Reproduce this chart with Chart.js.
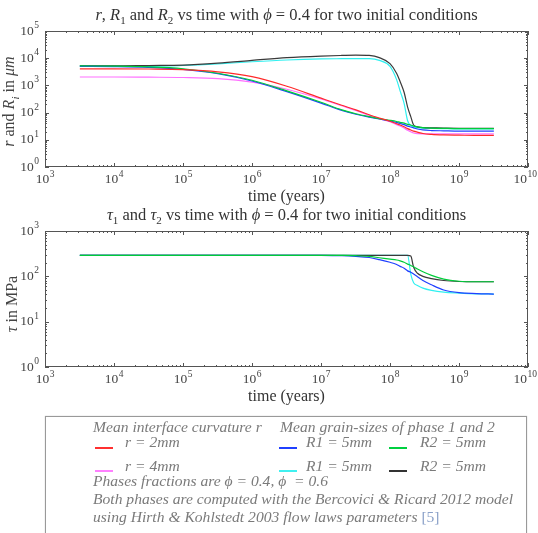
<!DOCTYPE html>
<html>
<head>
<meta charset="utf-8">
<script src="https://cdn.jsdelivr.net/npm/chart.js@4.4.1/dist/chart.umd.min.js"></script>
<style>
  html, body { margin: 0; padding: 0; background: #fff; }
  body { width: 538px; height: 533px; position: relative; overflow: hidden; font-family: "Liberation Serif", serif; color: #333; }
  canvas { position: absolute; left: 0; }
  #topChart { top: 0; }
  #bottomChart { top: 200px; }
  .t { position: absolute; white-space: nowrap; line-height: 16px; font-size: 15.6px; }
  .title { left: 45px; width: 483px; text-align: center; color: #333; font-size: 16.5px; }
  .xlab { left: 45px; width: 483px; text-align: center; color: #333; font-size: 16px; }
  .ylab { width: 200px; text-align: center; transform: rotate(-90deg); color: #444; font-size: 16px; }
  sub { font-size: 11px; }
  .legend { position: absolute; left: 45px; top: 416px; width: 480px; height: 140px; border: 1px solid #999; box-shadow: 0 0 1px #bbb; }
  .lg { font-style: italic; color: #7a7a7a; }
  .swatch { position: absolute; height: 1.5px; width: 18px; }
  .ref { color: #8aa0c8; font-style: normal; }
</style>
</head>
<body>
<canvas id="topChart" width="538" height="200"></canvas>
<canvas id="bottomChart" width="538" height="200"></canvas>

<div class="t title" style="top:7px"><i>r</i>, <i>R</i><sub>1</sub> and <i>R</i><sub>2</sub> vs time with <i>ϕ</i> = 0.4 for two initial conditions</div>
<div class="t xlab" style="top:188px">time (years)</div>
<div class="t ylab" style="left:-88px; top:91px"><i>r</i> and <i>R<sub>i</sub></i> in <i>μm</i></div>

<div class="t title" style="top:207px"><i>τ</i><sub>1</sub> and <i>τ</i><sub>2</sub> vs time with <i>ϕ</i> = 0.4 for two initial conditions</div>
<div class="t xlab" style="top:388px">time (years)</div>
<div class="t ylab" style="left:-88px; top:296px"><i>τ</i> in MPa</div>

<div class="legend"></div>
<div class="t lg" style="left:93px; top:418.5px">Mean interface curvature r</div>
<div class="t lg" style="left:280px; top:418.5px">Mean grain-sizes of phase 1 and 2</div>

<div class="swatch" style="left:95px; top:447px; background:#ff3030"></div>
<div class="t lg" style="left:125px; top:433.5px">r = 2mm</div>
<div class="swatch" style="left:279px; top:447px; background:#2040ff"></div>
<div class="t lg" style="left:306px; top:433.5px">R1 = 5mm</div>
<div class="swatch" style="left:389px; top:447px; background:#00d040"></div>
<div class="t lg" style="left:420px; top:433.5px">R2 = 5mm</div>

<div class="swatch" style="left:95px; top:470px; background:#ff80ff"></div>
<div class="t lg" style="left:125px; top:457.5px">r = 4mm</div>
<div class="swatch" style="left:279px; top:470px; background:#40f0f0"></div>
<div class="t lg" style="left:306px; top:457.5px">R1 = 5mm</div>
<div class="swatch" style="left:389px; top:470px; background:#333"></div>
<div class="t lg" style="left:420px; top:457.5px">R2 = 5mm</div>

<div class="t lg" style="left:93px; top:472.5px">Phases fractions are ϕ = 0.4, ϕ&nbsp;&nbsp;= 0.6</div>
<div class="t lg" style="left:93px; top:490.5px">Both phases are computed with the Bercovici &amp; Ricard 2012 model</div>
<div class="t lg" style="left:93px; top:508.5px">using Hirth &amp; Kohlstedt 2003 flow laws parameters <span class="ref">[5]</span></div>

<script>
// time axis shared by all curves (years)
const timeYears = [3.2e3, 1e4, 3.2e4, 1e5, 3.2e5, 1e6, 3.2e6, 1e7, 2e7, 3.2e7, 5e7, 7e7, 1e8,
  1.25e8, 1.4e8, 1.6e8, 1.8e8, 2e8, 2.2e8, 2.5e8, 3e8, 4e8, 6e8, 1e9, 1.8e9, 3.2e9];

// top panel: r, R1, R2 in micrometres
const rA = [4070, 4070, 4000, 3800, 3160, 2090, 930, 340, 186, 126, 83, 63, 48,
  39, 35, 30, 25.7, 22.9, 20.9, 19.1, 17, 15.8, 15.1, 14.8, 14.5, 14.5];
const rB = [2040, 2040, 2000, 1950, 1780, 1320, 720, 316, 178, 120, 79, 60, 46,
  36, 32, 27, 22.4, 19.8, 17.8, 16.8, 16.6, 16.6, 16.6, 16.6, 16.6, 16.6];
const R1A = [5000, 4900, 4600, 3900, 2700, 1450, 590, 224, 120, 87, 68, 58, 49,
  43, 40, 36, 32, 29.5, 27.5, 25, 23, 21.9, 21.4, 20.9, 20.9, 20.9];
const R2A = [5200, 5100, 4800, 4100, 2800, 1550, 630, 240, 126, 91, 71, 60, 52,
  47, 44, 41, 37, 35, 32, 30, 28, 27, 26.3, 25.7, 25.7, 25.7];
const R1B = [5200, 5100, 5000, 5400, 6200, 7400, 8600, 9400, 9600, 9700, 9600, 8300, 5000,
  1600, 630, 220, 50, 33, 29.5, 28, 27, 26.3, 25.7, 25.1, 25.1, 25.1];
const R2B = [5200, 5200, 5400, 5600, 6600, 8300, 10500, 12000, 12600, 12900, 12600, 10500, 6300,
  2750, 1400, 560, 160, 71, 35, 30, 28, 27.5, 27, 26.5, 26.3, 26.3];

// bottom panel: stresses in MPa
const tau1A = [291, 291, 291, 291, 291, 291, 291, 290, 285, 275, 260, 234, 204,
  182, 166, 151, 132, 123, 112, 98, 81, 65, 50, 43.6, 41.7, 40.7];
const tau2A = [291, 291, 291, 291, 291, 291, 291, 291, 289, 285, 275, 257, 240,
  229, 219, 204, 186, 174, 162, 145, 126, 105, 87, 78, 76, 76];
const tau1B = [291, 291, 291, 291, 291, 291, 291, 291, 291, 291, 291, 291, 291,
  291, 291, 291, 289, 112, 72, 63, 55, 49, 44.7, 42.7, 41.2, 40.7];
const tau2B = [291, 291, 291, 291, 291, 291, 291, 291, 291, 291, 291, 291, 291,
  291, 291, 291, 291, 282, 158, 117, 100, 89, 81, 77, 76, 76];

const xRange = [1e3, 1e10];
const topYRange = [1, 1e5];
const bottomYRange = [1, 1e3];

const COLORS = { red: '#ff2a2a', magenta: '#ff70ff', blue: '#2040ff', green: '#00cc3a', cyan: '#30f0f0', black: '#3a3a3a' };

Chart.defaults.animation = false;

function series(values, color) {
  return {
    data: values.map((v, i) => ({ x: timeYears[i], y: v })),
    borderColor: color,
    borderWidth: 1.2,
    pointRadius: 0,
    fill: false,
    cubicInterpolationMode: 'monotone'
  };
}

function decadeValues(minExp, maxExp) {
  const out = [];
  for (let e = minExp; e < maxExp; e++) {
    for (let k = 1; k < 10; k++) out.push(k * Math.pow(10, e));
  }
  out.push(Math.pow(10, maxExp));
  return out;
}

function drawPower(ctx, exp, x, baseline, align, maxRight) {
  const big = '13.5px "Liberation Serif", serif';
  const small = '9.5px "Liberation Serif", serif';
  ctx.font = big;
  const w10 = ctx.measureText('10').width;
  ctx.font = small;
  const we = ctx.measureText(String(exp)).width;
  const total = w10 + we + 0.5;
  let left = align === 'right' ? x - total : x - total / 2;
  if (left + total > maxRight) left = maxRight - total;
  ctx.textAlign = 'left';
  ctx.textBaseline = 'alphabetic';
  ctx.font = big;
  ctx.fillText('10', left, baseline);
  ctx.font = small;
  ctx.fillText(String(exp), left + w10 + 0.5, baseline - 6.5);
}

// frame, inward ticks on all sides and 10^n labels
const logFrame = {
  id: 'logFrame',
  afterDraw(chart, args, opts) {
    const { ctx, chartArea: a, scales: { x, y } } = chart;
    ctx.save();
    ctx.strokeStyle = '#555';
    ctx.lineWidth = 1;
    ctx.strokeRect(Math.round(a.left) + 0.5, Math.round(a.top) + 0.5, Math.round(a.width) - 1, Math.round(a.height) - 1);

    ctx.beginPath();
    decadeValues(3, 10).forEach(v => {
      const px = Math.round(x.getPixelForValue(v)) + 0.5;
      const major = Math.abs(Math.log10(v) - Math.round(Math.log10(v))) < 1e-9;
      const len = major ? 4 : 2;
      ctx.moveTo(px, a.bottom); ctx.lineTo(px, a.bottom - len);
      ctx.moveTo(px, a.top); ctx.lineTo(px, a.top + len);
    });
    decadeValues(0, opts.maxExp).forEach(v => {
      const py = Math.round(y.getPixelForValue(v)) + 0.5;
      const major = Math.abs(Math.log10(v) - Math.round(Math.log10(v))) < 1e-9;
      const len = major ? 4 : 2;
      ctx.moveTo(a.left, py); ctx.lineTo(a.left + len, py);
      ctx.moveTo(a.right, py); ctx.lineTo(a.right - len, py);
    });
    ctx.stroke();

    ctx.fillStyle = '#444';
    for (let e = 3; e <= 10; e++) {
      drawPower(ctx, e, x.getPixelForValue(Math.pow(10, e)), a.bottom + 16, 'center', chart.width - 1);
    }
    for (let e = 0; e <= opts.maxExp; e++) {
      drawPower(ctx, e, a.left - 6, y.getPixelForValue(Math.pow(10, e)) + 3.5, 'right', chart.width);
    }
    ctx.restore();
  }
};

function makeChart(id, datasets, yRange, maxExp) {
  return new Chart(document.getElementById(id), {
    type: 'line',
    data: { datasets },
    options: {
      responsive: false,
      animation: false,
      layout: { padding: { left: 45, right: 10, top: 31, bottom: 33 } },
      plugins: { legend: { display: false }, tooltip: { enabled: false }, logFrame: { maxExp } },
      scales: {
        x: { type: 'logarithmic', min: xRange[0], max: xRange[1], display: false },
        y: { type: 'logarithmic', min: yRange[0], max: yRange[1], display: false }
      }
    },
    plugins: [logFrame]
  });
}

makeChart('topChart', [
  series(rA, COLORS.red),
  series(R2A, COLORS.green),
  series(R1A, COLORS.blue),
  series(rB, COLORS.magenta),
  series(R2B, COLORS.black),
  series(R1B, COLORS.cyan)
], topYRange, 5);

makeChart('bottomChart', [
  series(tau2A, COLORS.green),
  series(tau2B, COLORS.black),
  series(tau1A, COLORS.blue),
  series(tau1B, COLORS.cyan)
], bottomYRange, 3);
</script>
</body>
</html>
